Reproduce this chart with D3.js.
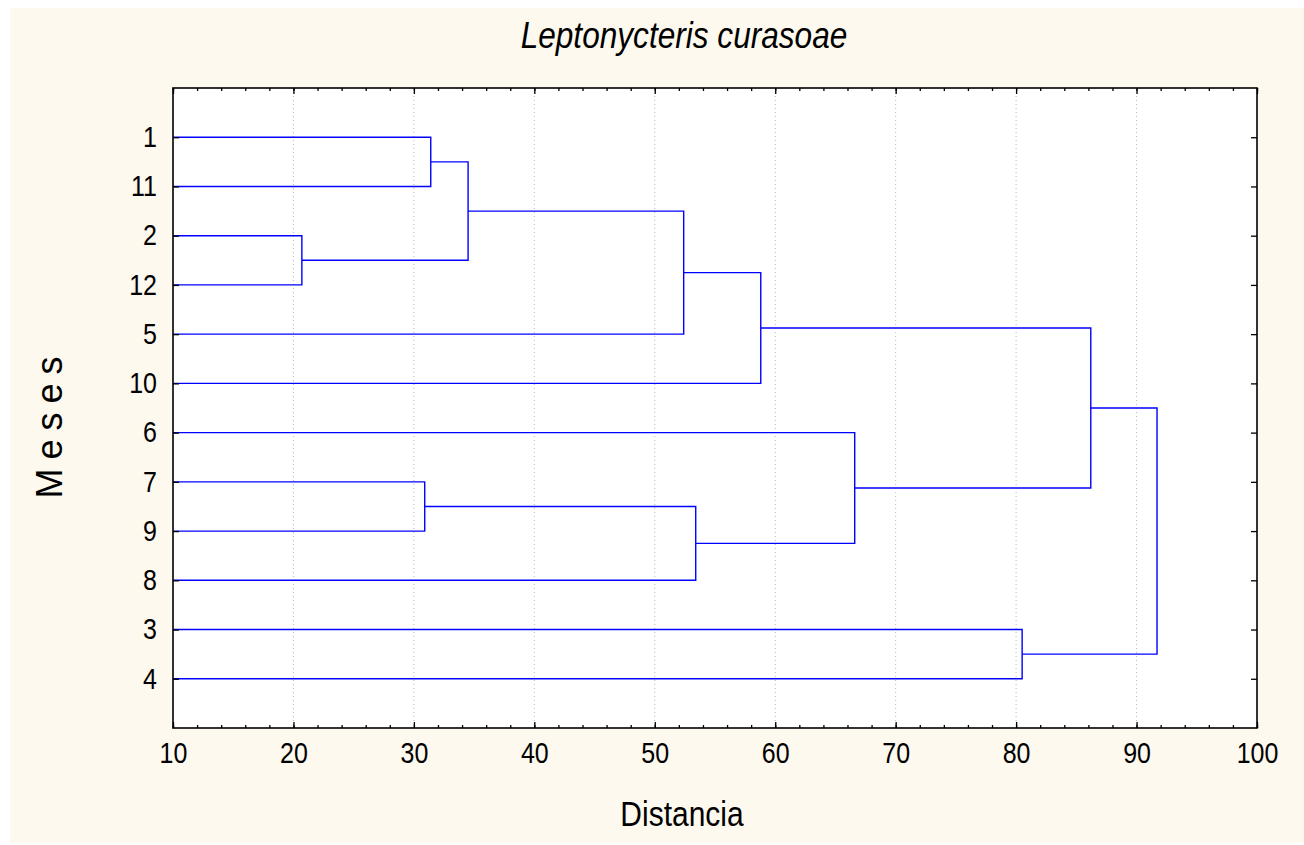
<!DOCTYPE html>
<html>
<head>
<meta charset="utf-8">
<script src="https://cdn.jsdelivr.net/npm/d3@7"></script>
<style>
  body { margin: 0; background: #fff; }
  text { font-family: "Liberation Sans", Arial, sans-serif; fill: #000; }
  .stretch { transform-box: fill-box; transform-origin: center; transform: scaleY(1.15); }
</style>
</head>
<body>
<div id="chart"></div>
<script>
// leaf order as drawn top to bottom
const leaves = ["1", "11", "2", "12", "5", "10", "6", "7", "9", "8", "3", "4"];

// merges: [cluster id, left, right, linkage distance]
const merges = [
    ["A", "2", "12", 20.7],
    ["B", "7", "9", 30.9],
    ["C", "1", "11", 31.4],
    ["D", "C", "A", 34.5],
    ["E", "D", "5", 52.4],
    ["F", "B", "8", 53.4],
    ["G", "E", "10", 58.8],
    ["H", "6", "F", 66.6],
    ["I", "3", "4", 80.5],
    ["J", "G", "H", 86.2],
    ["K", "J", "I", 91.7]
];

const xTicks = [10, 20, 30, 40, 50, 60, 70, 80, 90, 100];
const xMinor = d3.range(10, 101, 2);

const title = "Leptonycteris curasoae";
const xTitle = "Distancia";
const yTitle = "Meses";

const width = 1304, height = 845;
const margin = { left: 173, right: 1257, top: 88, bottom: 728 };

const svg = d3.select("#chart").append("svg")
    .attr("width", width)
    .attr("height", height);

svg.append("rect")
    .attr("x", 10).attr("y", 8)
    .attr("width", width - 10).attr("height", height - 10)
    .attr("fill", "#fdf9ee");

svg.append("rect")
    .attr("x", margin.left).attr("y", margin.top)
    .attr("width", margin.right - margin.left)
    .attr("height", margin.bottom - margin.top)
    .attr("fill", "#fff");

const x = d3.scaleLinear().domain([10, 100]).range([margin.left, margin.right]);
const y = d3.scaleLinear().domain([-1, leaves.length]).range([margin.top, margin.bottom]);

// build tree from merges
const nodes = {};
leaves.forEach((name, i) => { nodes[name] = { name: name, h: 10, pos: i }; });
merges.forEach(([id, a, b, h]) => {
    nodes[id] = { name: id, h: h, children: [nodes[a], nodes[b]] };
});
const root = d3.hierarchy(nodes["K"]);
root.eachAfter(d => {
    if (d.children) d.pos = d3.mean(d.children, c => c.pos);
    else d.pos = d.data.pos;
});

// grid
svg.append("g")
    .selectAll("line")
    .data(xTicks.slice(1, -1))
    .enter().append("line")
    .attr("x1", d => x(d)).attr("x2", d => x(d))
    .attr("y1", margin.top).attr("y2", margin.bottom)
    .attr("stroke", "#b8b8b8")
    .attr("stroke-width", 1)
    .attr("stroke-dasharray", "1,3");

// dendrogram links
const links = svg.append("g")
    .attr("fill", "none")
    .attr("stroke", "#0000ff")
    .attr("stroke-width", 1.4);

root.descendants().filter(d => d.children).forEach(d => {
    const [c1, c2] = d.children;
    links.append("path")
        .attr("d", `M${x(c1.data.h)},${y(c1.pos)}H${x(d.data.h)}V${y(c2.pos)}H${x(c2.data.h)}`);
});

// axes
const inner = 6;
const axisB = svg.append("g")
    .attr("transform", `translate(0,${margin.bottom})`)
    .call(d3.axisBottom(x).tickValues(xTicks).tickSizeInner(-inner).tickSizeOuter(0).tickPadding(16));
axisB.selectAll("text").attr("font-size", 25).attr("class", "stretch");

svg.append("g")
    .attr("transform", `translate(0,${margin.bottom})`)
    .call(d3.axisBottom(x).tickValues(xMinor).tickSizeInner(-3).tickSizeOuter(0).tickFormat(""));

svg.append("g")
    .attr("transform", `translate(0,${margin.top})`)
    .call(d3.axisTop(x).tickValues(xTicks).tickSizeInner(-inner).tickSizeOuter(0).tickFormat(""));
svg.append("g")
    .attr("transform", `translate(0,${margin.top})`)
    .call(d3.axisTop(x).tickValues(xMinor).tickSizeInner(-3).tickSizeOuter(0).tickFormat(""));

const axisL = svg.append("g")
    .attr("transform", `translate(${margin.left},0)`)
    .call(d3.axisLeft(y).tickValues(d3.range(leaves.length)).tickFormat(i => leaves[i])
        .tickSizeInner(-inner).tickSizeOuter(0).tickPadding(16));
axisL.selectAll("text").attr("font-size", 25).attr("class", "stretch");

svg.append("g")
    .attr("transform", `translate(${margin.right},0)`)
    .call(d3.axisRight(y).tickValues(d3.range(leaves.length)).tickFormat("")
        .tickSizeInner(-inner).tickSizeOuter(0));

svg.selectAll(".domain").attr("stroke", "none");
svg.selectAll(".tick line").attr("stroke", "#000").attr("stroke-width", 1.3);

// frame
svg.append("rect")
    .attr("x", margin.left).attr("y", margin.top)
    .attr("width", margin.right - margin.left)
    .attr("height", margin.bottom - margin.top)
    .attr("fill", "none")
    .attr("stroke", "#000")
    .attr("stroke-width", 1.6);

// titles
svg.append("text")
    .attr("class", "stretch")
    .attr("x", 684).attr("y", 46)
    .attr("text-anchor", "middle")
    .attr("font-size", 31.6)
    .attr("font-style", "italic")
    .text(title);

svg.append("text")
    .attr("class", "stretch")
    .attr("x", 682).attr("y", 824)
    .attr("text-anchor", "middle")
    .attr("font-size", 30)
    .text(xTitle);

svg.append("text")
    .attr("transform", "translate(62,423) rotate(-90)")
    .attr("text-anchor", "middle")
    .attr("font-size", 36)
    .attr("letter-spacing", 9)
    .text(yTitle);
</script>
</body>
</html>
